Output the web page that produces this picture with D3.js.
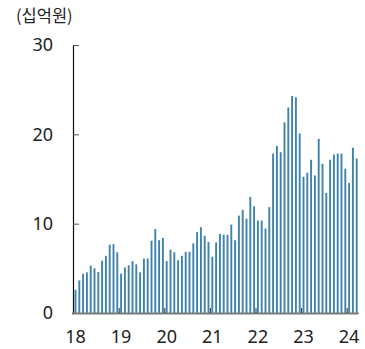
<!DOCTYPE html>
<html>
<head>
<meta charset="utf-8">
<script src="https://cdn.jsdelivr.net/npm/d3@7"></script>
<style>
  html, body { margin: 0; padding: 0; background: #fff; }
  svg { display: block; }
  text { font-family: "Noto Sans", "Noto Sans CJK KR", sans-serif; fill: #222; }
</style>
</head>
<body>
<svg id="chart" width="365" height="349"></svg>
<script>
// Monthly amounts (십억원), Jan 2018 – Mar 2024
const yearLabels = ["18", "19", "20", "21", "22", "23", "24"];
const values2018 = [2.6, 3.65, 4.4, 4.55, 5.3, 5.0, 4.6, 5.85, 6.4, 7.65, 7.7, 6.8];
const values2019 = [4.4, 5.1, 5.35, 5.8, 5.45, 4.55, 6.1, 6.1, 8.1, 9.4, 8.15, 8.4];
const values2020 = [5.8, 7.1, 6.8, 5.9, 6.4, 6.85, 6.85, 7.8, 9.05, 9.6, 8.65, 7.95];
const values2021 = [6.3, 7.9, 8.85, 8.75, 8.75, 9.9, 8.15, 10.9, 11.55, 10.55, 13.0, 11.95];
const values2022 = [10.35, 10.35, 9.45, 11.85, 17.85, 18.7, 18.0, 21.35, 23.0, 24.3, 24.15, 20.1];
const values2023 = [15.25, 15.7, 17.15, 15.4, 19.5, 16.7, 13.45, 17.15, 17.75, 17.85, 17.85, 16.15];
const values2024 = [14.55, 18.5, 17.3];
const yTicks = [0, 10, 20, 30];
const unitLabel = "(십억원)";

const yearly = [values2018, values2019, values2020, values2021, values2022, values2023, values2024];
const rows = [];
yearly.forEach((vals, yi) => {
  vals.forEach((v, mi) => rows.push({ year: yearLabels[yi], month: mi + 1, key: yearLabels[yi] + "-" + (mi + 1), value: v }));
});

const svg = d3.select("#chart");

const x = d3.scaleBand()
  .domain(rows.map(d => d.key))
  .range([73.6, 358.6])
  .paddingInner(0.5)
  .paddingOuter(0.25);

const y = d3.scaleLinear().domain([0, 30]).range([313, 45]);

// unit label
svg.append("text")
  .attr("x", 16).attr("y", 22)
  .style("font-family", "'Noto Sans CJK KR', 'Noto Sans', sans-serif")
  .style("font-size", "16.5px")
  .text(unitLabel);

// bars
svg.append("g").selectAll("rect")
  .data(rows)
  .join("rect")
  .attr("x", d => x(d.key))
  .attr("width", x.bandwidth())
  .attr("y", d => y(d.value))
  .attr("height", d => y(0) - y(d.value))
  .attr("fill", "#3f82aa");

// y axis: ticks pointing inward, labels on the left
const yAxis = d3.axisLeft(y).tickValues(yTicks).tickSize(0).tickPadding(20);
const gy = svg.append("g").attr("transform", "translate(73,0)").call(yAxis);
gy.select(".domain").attr("stroke", "#111").attr("stroke-width", 1.2)
  .attr("d", `M0.5,${y(30)}V${y(0)}`);
gy.selectAll(".tick text").style("font-size", "18px").attr("fill", "#222").attr("font-family", null);
gy.selectAll(".tick").filter(d => d > 0).append("line")
  .attr("x1", 0).attr("x2", 6).attr("stroke", "#555").attr("stroke-width", 1);

// x axis baseline
svg.append("line")
  .attr("x1", 72).attr("x2", 358.6)
  .attr("y1", y(0) + 0.5).attr("y2", y(0) + 0.5)
  .attr("stroke", "#7a7a7a").attr("stroke-width", 2);

// year boundary ticks and year labels under each January
const janKeys = rows.filter(d => d.month === 1);
const step = x.step();
svg.append("g").selectAll("line")
  .data(janKeys.slice(1))
  .join("line")
  .attr("x1", d => x(d.key) - step * 0.25)
  .attr("x2", d => x(d.key) - step * 0.25)
  .attr("y1", y(0))
  .attr("y2", y(0) - 5)
  .attr("stroke", "#333").attr("stroke-width", 1);

svg.append("g").selectAll("text")
  .data(janKeys)
  .join("text")
  .attr("x", d => x(d.key) + x.bandwidth() / 2)
  .attr("y", 343)
  .attr("text-anchor", "middle")
  .style("font-size", "18px")
  .text(d => d.year);
</script>
</body>
</html>
